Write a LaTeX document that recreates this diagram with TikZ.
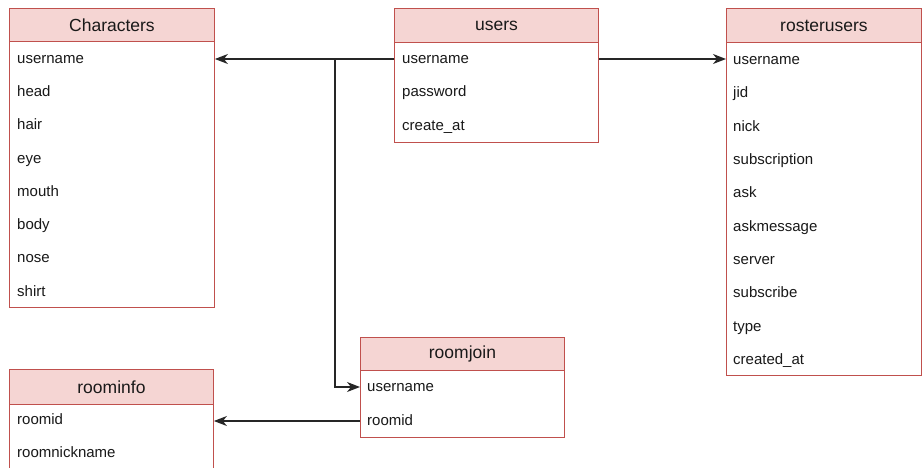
\documentclass[tikz,border=0pt]{standalone}
\usepackage{fontspec}
\setmainfont{Liberation Sans}
\usetikzlibrary{arrows.meta}
\definecolor{tblborder}{HTML}{C0504D}
\definecolor{hdrfill}{HTML}{F5D5D3}
\tikzset{
  hdr/.style={draw=tblborder, fill=hdrfill, line width=0.9pt, anchor=north west, inner sep=0pt,
    font=\fontsize{17.5}{20}\selectfont, text=black!90},
  bodybox/.style={draw=tblborder, fill=white, line width=0.9pt, anchor=north west, inner sep=0pt},
  fld/.style={anchor=west, inner sep=0pt, text height=11pt, text depth=3pt,
    font=\fontsize{15}{18}\selectfont, text=black!90},
  link/.style={draw=black!85, line width=1.3pt, -{Stealth[length=13pt,width=10pt,inset=4pt]}}
}
\begin{document}
\begin{tikzpicture}[x=1pt,y=-1pt]
\useasboundingbox (0,0) rectangle (922,467);
\clip (0,0) rectangle (922,467);
% Characters
\node[bodybox, minimum width=205pt, minimum height=266pt] (chbody) at (9,41) {};
\node[hdr, minimum width=205pt, minimum height=33pt] (chhdr) at (9,8) {Characters};
\node[fld] (ch-username) at (17,59) {username};
\node[fld] (ch-head) at (17,92) {head};
\node[fld] (ch-hair) at (17,125) {hair};
\node[fld] (ch-eye) at (17,159) {eye};
\node[fld] (ch-mouth) at (17,192) {mouth};
\node[fld] (ch-body) at (17,225) {body};
\node[fld] (ch-nose) at (17,258) {nose};
\node[fld] (ch-shirt) at (17,292) {shirt};
% users
\node[bodybox, minimum width=204pt, minimum height=100pt] (usbody) at (394,42) {};
\node[hdr, minimum width=204pt, minimum height=34pt] (ushdr) at (394,8) {users};
\node[fld] (us-username) at (402,59) {username};
\node[fld] (us-password) at (402,92) {password};
\node[fld] (us-create) at (402,126) {create\_at};
% rosterusers
\node[bodybox, minimum width=195pt, minimum height=333pt] (rubody) at (726,42) {};
\node[hdr, minimum width=195pt, minimum height=34pt] (ruhdr) at (726,8) {rosterusers};
\node[fld] (ru-username) at (733,60) {username};
\node[fld] (ru-jid) at (733,93) {jid};
\node[fld] (ru-nick) at (733,127) {nick};
\node[fld] (ru-subscription) at (733,160) {subscription};
\node[fld] (ru-ask) at (733,193) {ask};
\node[fld] (ru-askmessage) at (733,227) {askmessage};
\node[fld] (ru-server) at (733,260) {server};
\node[fld] (ru-subscribe) at (733,293) {subscribe};
\node[fld] (ru-type) at (733,327) {type};
\node[fld] (ru-created) at (733,360) {created\_at};
% roomjoin
\node[bodybox, minimum width=204pt, minimum height=67pt] (rjbody) at (360,370) {};
\node[hdr, minimum width=204pt, minimum height=33pt] (rjhdr) at (360,337) {roomjoin};
\node[fld] (rj-username) at (367,387) {username};
\node[fld] (rj-roomid) at (367,421) {roomid};
% roominfo
\node[bodybox, minimum width=204pt, minimum height=90pt] (ribody) at (9,404) {};
\node[hdr, minimum width=204pt, minimum height=35pt] (rihdr) at (9,369) {roominfo};
\node[fld] (ri-roomid) at (17,420) {roomid};
\node[fld] (ri-roomnick) at (17,453) {roomnickname};
% connectors
\coordinate (br) at (335,59);
\draw[link] (us-username -| usbody.west) -- (us-username -| chbody.east);
\draw[link] (br) |- (rj-username -| rjbody.west);
\draw[link] (us-username -| usbody.east) -- (us-username -| rubody.west);
\draw[link] (rj-roomid -| rjbody.west) -- (rj-roomid -| ribody.east);
\end{tikzpicture}
\end{document}
